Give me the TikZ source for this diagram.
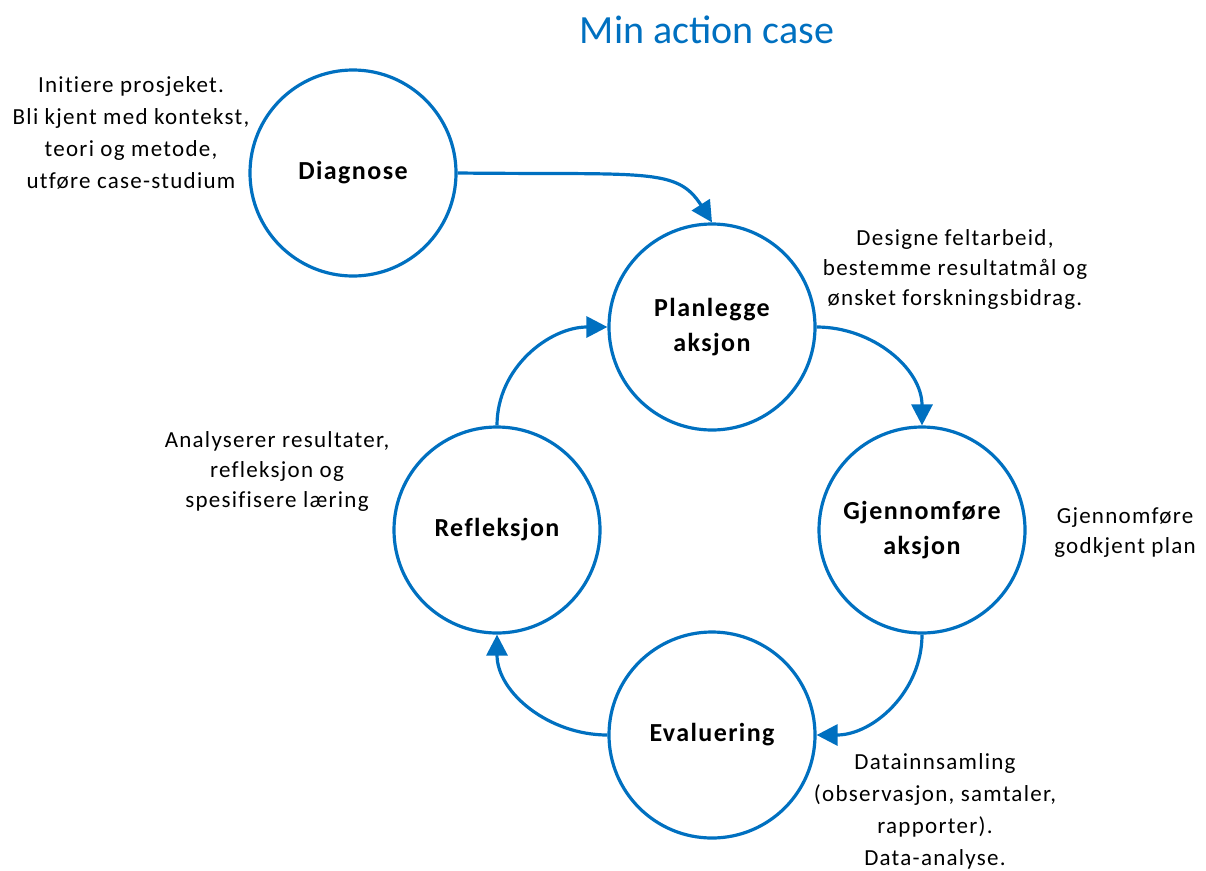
\documentclass[tikz,border=0pt]{standalone}
\usepackage{fontspec}
\setmainfont{Carlito}
\newfontfamily\spacedfont[LetterSpace=5.5, Ligatures=NoCommon]{Carlito}
\usetikzlibrary{arrows.meta}
\definecolor{cycleblue}{HTML}{0070C0}
\begin{document}
\begin{tikzpicture}[x=1pt,y=-1pt,
  phase/.style={circle, draw=cycleblue, line width=3.2pt, minimum size=206pt,
    inner sep=0pt, align=center, font=\spacedfont\fontsize{26}{35}\selectfont\bfseries},
  note/.style={align=center, font=\spacedfont\fontsize{23}{32}\selectfont, inner sep=0pt},
  flow/.style={draw=cycleblue, line width=3.2pt,
    -{Triangle[length=21pt, width=21pt]}}]
  \useasboundingbox (0,0) rectangle (1206,870);

  % title
  \node[font=\fontsize{40}{48}\selectfont, text=cycleblue] (title) at (707,30) {Min action case};

  % phases of the cycle
  \node[phase] (diag) at (353,173) {Diagnose};
  \node[phase] (plan) at (712,327) {Planlegge\\aksjon};
  \node[phase] (gjen) at (922,530) {Gjennomføre\\aksjon};
  \node[phase] (eval) at (712,735) {Evaluering};
  \node[phase] (refl) at (497,530) {Refleksjon};

  % descriptions
  \node[note] (ndiag) at (131,133) {Initiere prosjeket.\\Bli kjent med kontekst,\\teori og metode,\\utføre case-studium};
  \node[note, font=\spacedfont\fontsize{23}{30}\selectfont] (nplan) at (955,269) {Designe feltarbeid,\\bestemme resultatmål og\\ønsket forskningsbidrag.};
  \node[note, font=\spacedfont\fontsize{23}{30}\selectfont] (nrefl) at (277,471) {Analyserer resultater,\\refleksjon og\\spesifisere læring};
  \node[note, font=\spacedfont\fontsize{23}{30}\selectfont] (ngjen) at (1125,533) {Gjennomføre\\godkjent plan};
  \node[note] (neval) at (935,811) {Datainnsamling\\(observasjon, samtaler,\\rapporter).\\Data-analyse.};

  % connectors
  \draw[flow] (diag.east) .. controls +(190,2) and +(-35,-55) .. (plan.north);
  \draw[flow] (plan.east) to[out=0, in=90] (gjen.north);
  \draw[flow] (gjen.south) to[out=-90, in=0] (eval.east);
  \draw[flow] (eval.west) to[out=180, in=-90] (refl.south);
  \draw[flow] (refl.north) to[out=90, in=180] (plan.west);
\end{tikzpicture}
\end{document}
